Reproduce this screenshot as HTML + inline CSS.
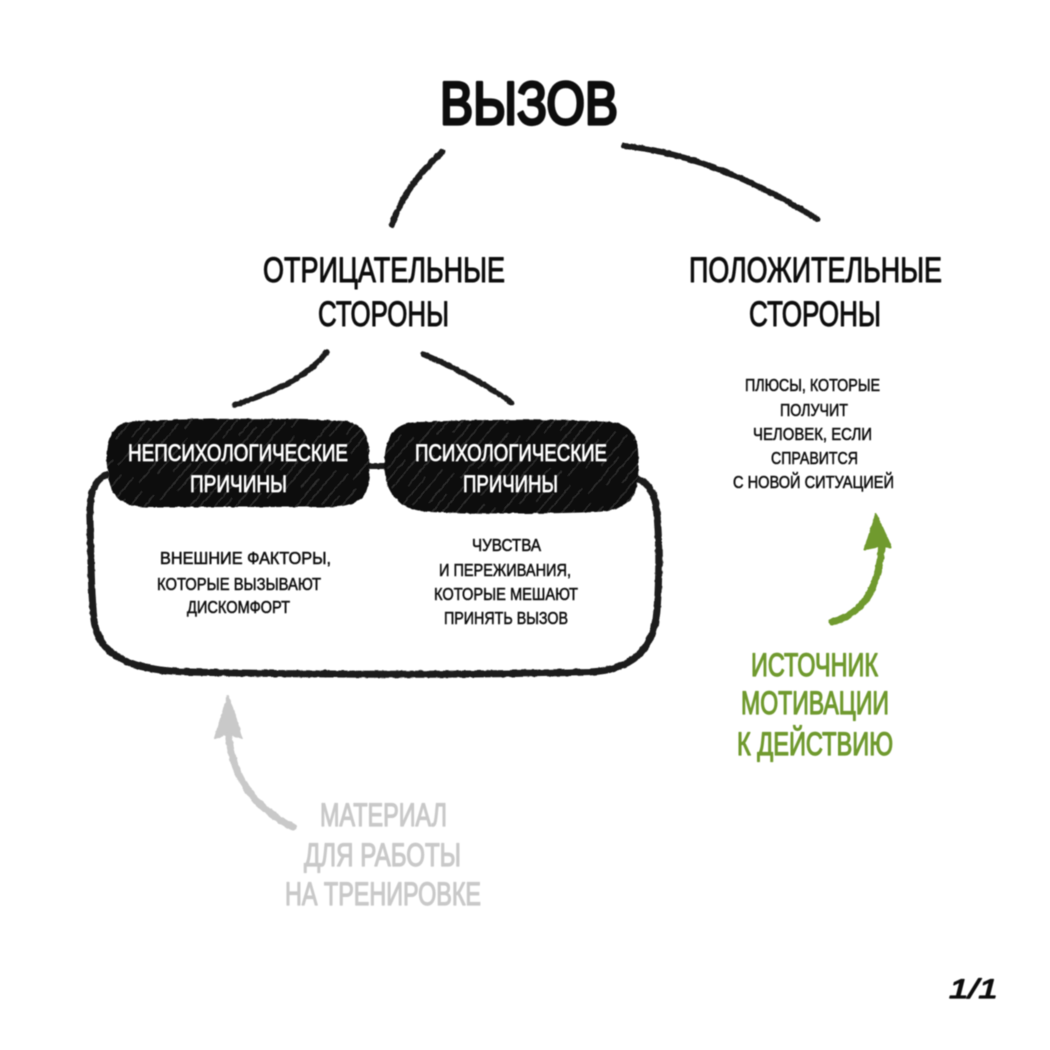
<!DOCTYPE html>
<html lang="ru">
<head>
<meta charset="utf-8">
<title>Вызов</title>
<style>
html,body{margin:0;padding:0;background:#fff;width:1050px;height:1050px;overflow:hidden}
svg{display:block}
text{font-family:"Liberation Sans","DejaVu Sans",sans-serif;text-anchor:start;stroke-linejoin:round;stroke-linecap:round}
.big{font-size:35px;fill:#111;stroke:#111;stroke-width:1}
.sm{font-size:17.5px;fill:#111;stroke:#111;stroke-width:.55}
.box{font-size:24px;fill:#fff;stroke:#fff;stroke-width:.8}
.gr{font-size:32px;fill:#6f9a2e;stroke:#6f9a2e;stroke-width:1.2}
.gy{font-size:32px;fill:#c9c9c9;stroke:#c9c9c9;stroke-width:1.2}
</style>
</head>
<body>
<svg width="1050" height="1050" viewBox="0 0 1050 1050" xmlns="http://www.w3.org/2000/svg">
<defs>
<filter id="r" x="-5%" y="-5%" width="110%" height="110%">
<feTurbulence type="fractalNoise" baseFrequency="0.18" numOctaves="2" seed="4"/>
<feDisplacementMap in="SourceGraphic" scale="2.5" xChannelSelector="R" yChannelSelector="G"/>
<feGaussianBlur stdDeviation="0.45"/>
</filter>
<filter id="b" x="-5%" y="-5%" width="110%" height="110%"><feGaussianBlur stdDeviation="0.4"/></filter>
<pattern id="h" width="27" height="70" patternUnits="userSpaceOnUse" patternTransform="rotate(40)">
<rect width="27" height="70" fill="#0c0c0c"/>
<path d="M4 0V40M12 22V70M20 5V52" stroke="#343434" stroke-width="1.2"/>
</pattern>
</defs>

<g filter="url(#r)" fill="none" stroke="#1a1a1a" stroke-linecap="round">
<path d="M442 152C420 173 401 196 392 225" stroke-width="6"/>
<path d="M624 146C690 152 760 183 817 219" stroke-width="6"/>
<path d="M327 352C305 380 270 393 235 405" stroke-width="5.5"/>
<path d="M423 354C456 368 487 385 512 403" stroke-width="5.5"/>
<path d="M106 475C92 482 89 498 90 520C91 560 91 590 94 620C98 655 130 671 190 672C320 675 470 675 590 672C632 670 654 650 657 610C660 570 659 530 656 505C653 490 647 482 636 478" stroke-width="7"/>
<path d="M368 466H386" stroke-width="6"/>
</g>

<g filter="url(#r)">
<path d="M140 421C200 418 290 418 345 421C362 423 370 436 369 455C370 470 370 482 366 492C360 504 345 507 325 507H150C125 508 112 498 109 480C106 465 105 448 110 437C115 425 125 421 140 421Z" fill="url(#h)"/>
<path d="M420 422C480 419 560 419 612 422C628 424 637 434 638 450C639 465 639 480 635 492C630 506 615 511 595 512C550 514 480 514 430 512C405 511 390 498 386 480C383 465 384 448 390 437C396 426 405 422 420 422Z" fill="url(#h)"/>
</g>

<g filter="url(#b)">
<text x="440" y="124" font-size="60" fill="#0d0d0d" stroke="#0d0d0d" stroke-width="3.2" textLength="178" lengthAdjust="spacingAndGlyphs">ВЫЗОВ</text>

<text class="big" x="263" y="282" textLength="242" lengthAdjust="spacingAndGlyphs">ОТРИЦАТЕЛЬНЫЕ</text>
<text class="big" x="318" y="326" textLength="131" lengthAdjust="spacingAndGlyphs">СТОРОНЫ</text>
<text class="big" x="689" y="282" textLength="253" lengthAdjust="spacingAndGlyphs">ПОЛОЖИТЕЛЬНЫЕ</text>
<text class="big" x="749" y="326" textLength="132" lengthAdjust="spacingAndGlyphs">СТОРОНЫ</text>

<text class="sm" x="745" y="391" textLength="135" lengthAdjust="spacingAndGlyphs">ПЛЮСЫ, КОТОРЫЕ</text>
<text class="sm" x="780" y="416" textLength="68" lengthAdjust="spacingAndGlyphs">ПОЛУЧИТ</text>
<text class="sm" x="753" y="440" textLength="119" lengthAdjust="spacingAndGlyphs">ЧЕЛОВЕК, ЕСЛИ</text>
<text class="sm" x="771" y="464" textLength="87" lengthAdjust="spacingAndGlyphs">СПРАВИТСЯ</text>
<text class="sm" x="733" y="488" textLength="161" lengthAdjust="spacingAndGlyphs">С НОВОЙ СИТУАЦИЕЙ</text>

<text class="box" x="128" y="461" textLength="220" lengthAdjust="spacingAndGlyphs">НЕПСИХОЛОГИЧЕСКИЕ</text>
<text class="box" x="190" y="492" textLength="97" lengthAdjust="spacingAndGlyphs">ПРИЧИНЫ</text>
<text class="box" x="415" y="461" textLength="192" lengthAdjust="spacingAndGlyphs">ПСИХОЛОГИЧЕСКИЕ</text>
<text class="box" x="463" y="492" textLength="95" lengthAdjust="spacingAndGlyphs">ПРИЧИНЫ</text>

<text class="sm" x="160" y="564" textLength="171" lengthAdjust="spacingAndGlyphs">ВНЕШНИЕ ФАКТОРЫ,</text>
<text class="sm" x="157" y="590" textLength="164" lengthAdjust="spacingAndGlyphs">КОТОРЫЕ ВЫЗЫВАЮТ</text>
<text class="sm" x="187" y="613" textLength="103" lengthAdjust="spacingAndGlyphs">ДИСКОМФОРТ</text>

<text class="sm" x="472" y="551" textLength="69" lengthAdjust="spacingAndGlyphs">ЧУВСТВА</text>
<text class="sm" x="439" y="576" textLength="132" lengthAdjust="spacingAndGlyphs">И ПЕРЕЖИВАНИЯ,</text>
<text class="sm" x="434" y="600" textLength="144" lengthAdjust="spacingAndGlyphs">КОТОРЫЕ МЕШАЮТ</text>
<text class="sm" x="444" y="624" textLength="124" lengthAdjust="spacingAndGlyphs">ПРИНЯТЬ ВЫЗОВ</text>

<text class="gr" x="751" y="676" textLength="127" lengthAdjust="spacingAndGlyphs">ИСТОЧНИК</text>
<text class="gr" x="741" y="714" textLength="148" lengthAdjust="spacingAndGlyphs">МОТИВАЦИИ</text>
<text class="gr" x="737" y="755" textLength="156" lengthAdjust="spacingAndGlyphs">К ДЕЙСТВИЮ</text>

<text class="gy" x="320" y="826" textLength="127" lengthAdjust="spacingAndGlyphs">МАТЕРИАЛ</text>
<text class="gy" x="304" y="866" textLength="157" lengthAdjust="spacingAndGlyphs">ДЛЯ РАБОТЫ</text>
<text class="gy" x="285" y="905" textLength="196" lengthAdjust="spacingAndGlyphs">НА ТРЕНИРОВКЕ</text>

<text x="949" y="998" font-size="27" font-style="italic" fill="#111" stroke="#111" stroke-width="1.2" textLength="49" lengthAdjust="spacingAndGlyphs">1/1</text>
</g>

<g filter="url(#r)">
<path d="M832 622C862 614 880 590 882 540" fill="none" stroke="#6f9a2e" stroke-width="7" stroke-linecap="round"/>
<path d="M876 514L865 549L881 546L891 547Z" fill="#6f9a2e" stroke="#6f9a2e" stroke-width="2" stroke-linejoin="round"/>
<path d="M293 827C255 808 232 780 228 730" fill="none" stroke="#c9c9c9" stroke-width="7" stroke-linecap="round"/>
<path d="M228 696L215 738L229 733L242 738Z" fill="#c9c9c9" stroke="#c9c9c9" stroke-width="2" stroke-linejoin="round"/>
</g>
</svg>
</body>
</html>
